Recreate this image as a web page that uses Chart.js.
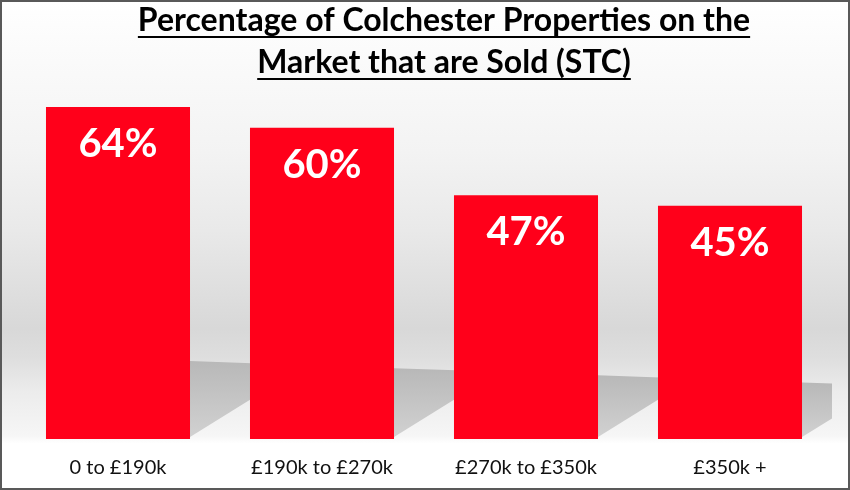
<!DOCTYPE html>
<html lang="en">
<head>
    <meta charset="UTF-8">
    <title>Percentage of Colchester Properties on the Market that are Sold (STC)</title>
    <script src="https://cdn.jsdelivr.net/npm/chart.js"></script>
    <style>
        body { margin: 0; background: #fff; }
    </style>
</head>
<body>
    <canvas id="myChart" width="850" height="490"></canvas>
    <script>
        const titleLines = ['Percentage of Colchester Properties on the', 'Market that are Sold (STC)'];
        const priceBands = ['0 to £190k', '£190k to £270k', '£270k to £350k', '£350k +'];
        const soldPercent = [64, 60, 47, 45];

        const FONT = 'Lato, "Open Sans", sans-serif';

        // grey wall/floor backdrop, like the original slide
        const backdrop = {
            id: 'backdrop',
            beforeDraw(chart) {
                const { ctx, width, height } = chart;
                const g = ctx.createLinearGradient(0, 0, 0, height);
                g.addColorStop(0, '#ffffff');
                g.addColorStop(0.1, '#fbfbfb');
                g.addColorStop(0.31, '#f3f3f3');
                g.addColorStop(0.47, '#e9e9e9');
                g.addColorStop(0.67, '#d8d8d8');
                g.addColorStop(0.73, '#dedede');
                g.addColorStop(0.8, '#ececec');
                g.addColorStop(0.89, '#f6f6f6');
                g.addColorStop(0.905, '#ffffff');
                ctx.save();
                ctx.fillStyle = g;
                ctx.fillRect(0, 0, width, height);
                ctx.restore();
            },
            beforeDatasetsDraw(chart) {
                const { ctx, chartArea } = chart;
                const bars = chart.getDatasetMeta(0).data;
                const topAt = x => 361 + (x - 190) * 0.035;
                ctx.save();
                ctx.beginPath();
                ctx.rect(chartArea.left, 0, chartArea.right - chartArea.left, chart.height);
                ctx.clip();
                bars.forEach(bar => {
                    const r = bar.x + bar.width / 2;
                    const len = 62;
                    const g = ctx.createLinearGradient(0, topAt(r), 0, bar.base);
                    g.addColorStop(0, '#b8b8b8');
                    g.addColorStop(1, '#d2d2d2');
                    ctx.fillStyle = g;
                    ctx.beginPath();
                    ctx.moveTo(r, topAt(r));
                    ctx.lineTo(r + len, topAt(r + len));
                    ctx.lineTo(r + len, bar.base - 2 - len * 0.62);
                    ctx.lineTo(r, bar.base - 2);
                    ctx.closePath();
                    ctx.fill();
                });
                ctx.restore();
            },
            afterDraw(chart) {
                const { ctx, width, height } = chart;
                ctx.save();
                // underlined two-line title
                ctx.fillStyle = '#000';
                ctx.strokeStyle = '#000';
                ctx.lineWidth = 2;
                ctx.font = 'bold 32px ' + FONT;
                ctx.textAlign = 'center';
                ctx.textBaseline = 'alphabetic';
                titleLines.forEach((line, i) => {
                    const y = 31 + i * 42;
                    ctx.fillText(line, 444, y);
                    const w = ctx.measureText(line).width;
                    ctx.beginPath();
                    ctx.moveTo(444 - w / 2, y + 6);
                    ctx.lineTo(444 + w / 2, y + 6);
                    ctx.stroke();
                });
                // values inside the bars
                ctx.fillStyle = '#fff';
                ctx.font = 'bold 40px ' + FONT;
                chart.getDatasetMeta(0).data.forEach((bar, i) => {
                    ctx.fillText(soldPercent[i] + '%', bar.x, bar.y + 50);
                });
                // frame
                ctx.strokeStyle = '#595959';
                ctx.lineWidth = 2;
                ctx.strokeRect(1, 1, width - 2, height - 2);
                ctx.restore();
            }
        };

        const ctx = document.getElementById('myChart').getContext('2d');
        new Chart(ctx, {
            type: 'bar',
            data: {
                labels: priceBands,
                datasets: [{
                    label: 'Sold (STC)',
                    data: soldPercent,
                    backgroundColor: '#ff001a',
                    borderWidth: 0,
                    barPercentage: 0.706,
                    categoryPercentage: 1
                }]
            },
            options: {
                responsive: false,
                animation: false,
                layout: { padding: { top: 76, left: 16, right: 18, bottom: 0 } },
                scales: {
                    x: {
                        grid: { display: false, drawTicks: false },
                        border: { display: false },
                        ticks: {
                            color: '#111',
                            padding: 17,
                            font: { family: FONT, size: 20 }
                        },
                        afterFit(scale) { scale.height = 51; }
                    },
                    y: {
                        display: false,
                        min: 0,
                        max: 70
                    }
                },
                plugins: {
                    legend: { display: false },
                    tooltip: { enabled: false }
                }
            },
            plugins: [backdrop]
        });
    </script>
</body>
</html>
